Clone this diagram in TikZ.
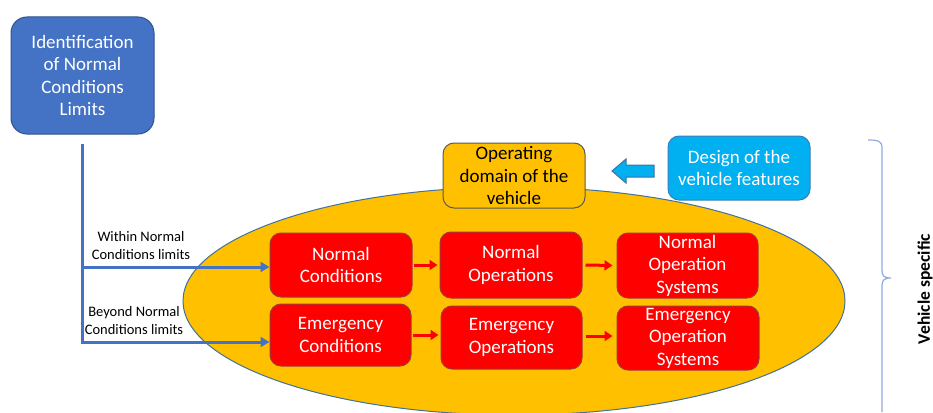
\documentclass[tikz,border=0pt]{standalone}
\usepackage{fontspec}
\setmainfont{Carlito}
\usetikzlibrary{arrows.meta}
\definecolor{idblue}{HTML}{4472C4}
\definecolor{idedge}{HTML}{2F528F}
\definecolor{domfill}{HTML}{FFC000}
\definecolor{domedge}{HTML}{41719C}
\definecolor{boxred}{HTML}{FF0000}
\definecolor{rededge}{HTML}{A33A3A}
\definecolor{skyblue}{HTML}{00B0F0}
\definecolor{skyedge}{HTML}{3A7FB8}
\definecolor{bracecol}{HTML}{8FAADC}
\tikzset{
  basebox/.style={rounded corners=11pt, align=center, inner sep=0pt,
    font=\fontsize{19}{22.5}\selectfont},
  redbox/.style={basebox, fill=boxred, draw=rededge, line width=1pt, text=white},
  flowred/.style={draw=boxred, line width=3pt, -{Triangle[length=8pt,width=10pt]}},
  flowblue/.style={draw=idblue, line width=3pt, -{Triangle[length=9pt,width=10pt]}},
  smalllabel/.style={align=center, font=\fontsize{14.5}{18}\selectfont, inner sep=0pt},
}
\begin{document}
\begin{tikzpicture}[x=1pt,y=-1pt]
\useasboundingbox (0,0) rectangle (933,412);

% operating domain ellipse
\begin{scope}
\clip (0,0) rectangle (933,412);
\fill[domfill, draw=domedge, line width=1pt] (514,301) ellipse [x radius=331, y radius=114];
\end{scope}

% source of the limits
\node[basebox, fill=idblue, draw=idedge, line width=1pt, text=white,
  minimum width=143pt, minimum height=117pt, rounded corners=16pt]
  (ident) at (82.5,75.5) {Identification\\of Normal\\Conditions\\Limits};

% conditions / operations / systems
\node[redbox, minimum width=142pt, minimum height=64pt] (nc)  at (341,265)   {Normal\\Conditions};
\node[redbox, minimum width=142pt, minimum height=66pt] (no)  at (511,265)   {Normal\\Operations};
\node[redbox, minimum width=141pt, minimum height=65pt] (nos) at (687.5,265.5) {Normal\\Operation\\Systems};
\node[redbox, minimum width=141pt, minimum height=62pt] (ec)  at (340.5,335) {Emergency\\Conditions};
\node[redbox, minimum width=141pt, minimum height=63pt] (eo)  at (511.5,337.5) {Emergency\\Operations};
\node[redbox, minimum width=142pt, minimum height=64pt] (eos) at (688,338)   {Emergency\\Operation\\Systems};

% domain and design boxes
\node[basebox, fill=domfill, draw=gray!70!black, line width=1pt, text=black,
  minimum width=142pt, minimum height=65pt] (od) at (514,175.5) {Operating\\domain of the\\vehicle};
\node[basebox, fill=skyblue, draw=skyedge, line width=1pt, text=white,
  minimum width=142pt, minimum height=64pt] (df) at (739,168) {Design of the\\vehicle features};

% block arrow from design to domain
\draw[fill=skyblue, draw=domedge, line width=1pt]
  (612,171) -- (626,159) -- (626,165) -- (654,165) -- (654,177) -- (626,177) -- (626,183) -- cycle;

% branching from the limits
\coordinate (top) at (82,145);
\coordinate (jn) at (82,267);
\coordinate (je) at (82,342);
\draw[idblue, line width=3pt, line cap=rect] (top) -- (je);
\draw[flowblue] (jn) -- (nc.west |- jn) ;
\draw[flowblue] (je) -- (ec.west |- je);
\node[smalllabel] (lwithin) at (141,246) {Within Normal\\Conditions limits};
\node[smalllabel] (lbeyond) at (134,321) {Beyond Normal\\Conditions limits};

% flow between the red boxes
\draw[flowred, shorten <=1pt, shorten >=2pt] (nc.east) -- (no.west);
\draw[flowred, shorten <=3pt, shorten >=4pt] (no.east) -- (nos.west);
\draw[flowred, shorten <=1pt, shorten >=2pt] (ec.east |- 0,335) -- (eo.west |- 0,335);
\draw[flowred, shorten <=3pt, shorten >=4pt] (eo.east |- 0,336) -- (eos.west |- 0,336);

% brace
\draw[bracecol, line width=1.2pt]
  (868,140) .. controls (878,140) and (882,141) .. (882,148) -- (882,270)
  .. controls (882,276) and (884,278) .. (891,278)
  .. controls (884,278) and (882,280) .. (882,286) -- (882,412);
\node[rotate=90, font=\bfseries\fontsize{17.5}{21}\selectfont, inner sep=0pt] (vs) at (925,289) {Vehicle specific};
\end{tikzpicture}
\end{document}
